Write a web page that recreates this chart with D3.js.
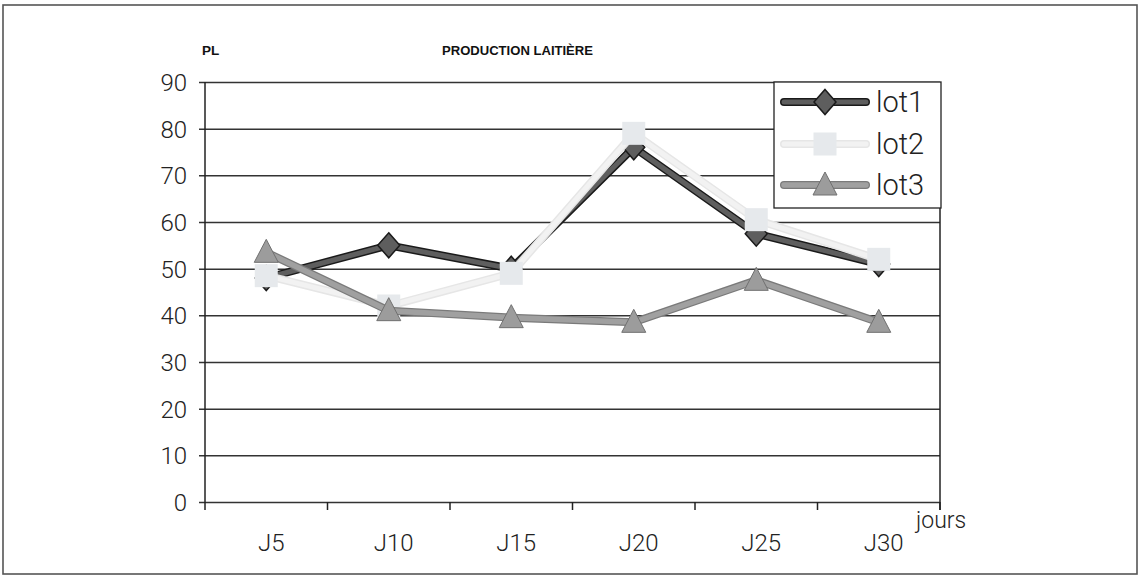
<!DOCTYPE html>
<html><head><meta charset="utf-8">
<script src="https://cdn.jsdelivr.net/npm/d3@7"></script>
<style>html,body{margin:0;padding:0;background:#fff;}svg{display:block;}</style>
</head><body>
<svg id="c" width="1140" height="581"></svg>
<script>
const categories = ["J5","J10","J15","J20","J25","J30"];
const lot1 = [48, 55, 50, 76, 57.5, 51];
const lot2 = [48.5, 42, 49, 79, 60.5, 52];
const lot3 = [53.5, 41, 39.5, 38.5, 47.5, 38.5];
const yTicks = [0,10,20,30,40,50,60,70,80,90];
const seriesNames = ["lot1","lot2","lot3"];

(function(){
const svg = d3.select("#c");
const pL = 205, pR = 940, pT = 82, pB = 502;

svg.append("rect").attr("x",3).attr("y",5).attr("width",1134).attr("height",569)
  .attr("fill","none").attr("stroke","#555").attr("stroke-width",1.6);

const x = d3.scaleBand().domain(categories).range([pL,pR]).padding(0);
const y = d3.scaleLinear().domain([0,90]).range([pB,pT]);

const fontT = "Roboto, 'DejaVu Sans Condensed', sans-serif";
const fw = 300;

const yAxis = d3.axisLeft(y).tickValues(yTicks).tickSize(-(pR-pL)).tickPadding(18).tickFormat(d3.format("d"));
const gy = svg.append("g").attr("transform",`translate(${pL},0)`).call(yAxis);
gy.select(".domain").remove();
gy.selectAll(".tick line").attr("stroke","#333").attr("stroke-width",1.5).attr("x1",-6);
gy.selectAll(".tick text").attr("font-family",fontT).attr("font-weight",fw)
  .attr("font-size",24).attr("fill","#222").attr("dy","0.36em");

svg.append("line").attr("x1",pL).attr("x2",pL).attr("y1",pT).attr("y2",pB+8)
  .attr("stroke","#222").attr("stroke-width",1.5);
svg.append("line").attr("x1",pR).attr("x2",pR).attr("y1",pT).attr("y2",pB+8)
  .attr("stroke","#222").attr("stroke-width",1.5);

const xAxis = d3.axisBottom(x).tickSize(0).tickPadding(32);
const gx = svg.append("g").attr("transform",`translate(0,${pB})`).call(xAxis);
gx.select(".domain").remove();
gx.selectAll(".tick text").attr("font-family",fontT).attr("font-weight",fw)
  .attr("font-size",24).attr("fill","#222").attr("dx",5);
const bounds = categories.slice(1).map(c => x(c)).concat([pR]);
svg.append("g").selectAll("line").data(bounds).join("line")
  .attr("x1",d=>d).attr("x2",d=>d).attr("y1",pB).attr("y2",pB+8)
  .attr("stroke","#222").attr("stroke-width",1.5);

svg.append("text").attr("x",202).attr("y",55).text("PL")
  .attr("font-family","'Liberation Sans', Arial, sans-serif").attr("font-weight","bold").attr("font-size",13.5).attr("fill","#111");
svg.append("text").attr("x",442).attr("y",55).text("PRODUCTION LAITIÈRE")
  .attr("font-family","'Liberation Sans', Arial, sans-serif").attr("font-weight","bold").attr("font-size",13.5).attr("fill","#111")
  .attr("textLength",151).attr("lengthAdjust","spacingAndGlyphs");
svg.append("text").attr("x",916).attr("y",528).text("jours")
  .attr("font-family",fontT).attr("font-weight",fw).attr("font-size",23).attr("fill","#222");

const cx = c => x(c) + x.bandwidth()/2;
const line = d3.line().x((d,i)=>cx(categories[i])).y(d=>y(d));

const styles = [
  {data: lot1, outer:"#1a1a1a", outerW:8, inner:"#5e5e5e", innerW:5, fill:"#5e5e5e", stroke:"#1a1a1a", shape:"diamond"},
  {data: lot2, outer:"#e6e6e6", outerW:8, inner:"#f2f2f2", innerW:5, fill:"#e6e9ec", stroke:"none", shape:"square"},
  {data: lot3, outer:"#7a7a7a", outerW:8, inner:"#a0a0a0", innerW:5.5, fill:"#9c9c9c", stroke:"#707070", shape:"triangle"}
];

function marker(g, shape, px, py, s) {
  if (shape === "diamond") {
    g.append("path").attr("d",`M${px},${py-12.5}L${px+11},${py}L${px},${py+12.5}L${px-11},${py}Z`)
      .attr("fill",s.fill).attr("stroke",s.stroke).attr("stroke-width",1.5);
  } else if (shape === "square") {
    g.append("rect").attr("x",px-11.5).attr("y",py-11.5).attr("width",23).attr("height",23)
      .attr("fill",s.fill);
  } else {
    g.append("path").attr("d",`M${px},${py-13}L${px+12},${py+10}L${px-12},${py+10}Z`)
      .attr("fill",s.fill).attr("stroke",s.stroke).attr("stroke-width",1);
  }
}

styles.forEach(s => {
  const g = svg.append("g");
  g.append("path").datum(s.data).attr("d",line).attr("fill","none")
    .attr("stroke",s.outer).attr("stroke-width",s.outerW).attr("stroke-linejoin","miter");
  g.append("path").datum(s.data).attr("d",line).attr("fill","none")
    .attr("stroke",s.inner).attr("stroke-width",s.innerW).attr("stroke-linejoin","miter");
  s.data.forEach((v,i) => marker(g, s.shape, cx(categories[i]), y(v), s));
});

const lg = svg.append("g");
lg.append("rect").attr("x",774).attr("y",82).attr("width",167).attr("height",126)
  .attr("fill","#fff").attr("stroke","#222").attr("stroke-width",1.3);
const ly = [102, 144, 185];
styles.forEach((s,i) => {
  lg.append("line").attr("x1",784).attr("x2",866).attr("y1",ly[i]).attr("y2",ly[i])
    .attr("stroke",s.outer).attr("stroke-width",s.outerW).attr("stroke-linecap","round");
  lg.append("line").attr("x1",784).attr("x2",866).attr("y1",ly[i]).attr("y2",ly[i])
    .attr("stroke",s.inner).attr("stroke-width",s.innerW).attr("stroke-linecap","round");
  marker(lg, s.shape, 825, ly[i], s);
  lg.append("text").attr("x",876).attr("y",ly[i]+10).text(seriesNames[i])
    .attr("font-family",fontT).attr("font-weight",fw).attr("font-size",29).attr("fill","#222");
});
})();
</script>
</body></html>
